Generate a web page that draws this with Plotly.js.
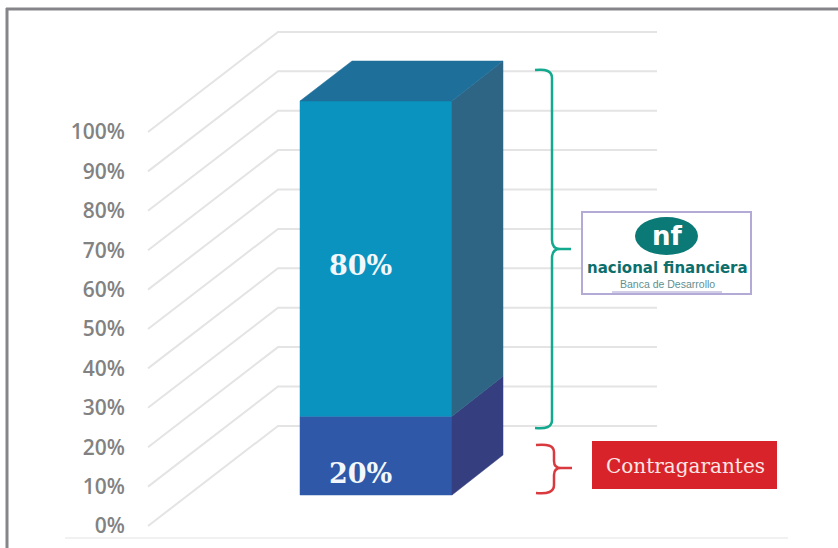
<!DOCTYPE html>
<html>
<head>
<meta charset="utf-8">
<script src="https://cdn.plot.ly/plotly-3.0.1.min.js"></script>
<style>html,body{margin:0;padding:0;background:#fff}#chart{width:838px;height:548px}</style>
</head>
<body>
<div id="chart"></div>
<script>
// Guarantee split of the stacked column
const segmentNames = ['Contragarantes', 'Nacional Financiera'];
const segmentValues = [20, 80];
const segmentLabels = ['20%', '80%'];
const tickValues = [0, 10, 20, 30, 40, 50, 60, 70, 80, 90, 100];
const tickLabels = ['0%', '10%', '20%', '30%', '40%', '50%', '60%', '70%', '80%', '90%', '100%'];

// Page geometry: the x axis runs in page pixels, the y axis in percent
const W = 838, H = 548, plotLeft = 130;
const pxPerPct = 3.94, zeroPx = 526;
const val = px => (zeroPx - px) / pxPerPct;
const yRange = [val(H), val(0)];

// Oblique projection of the floor and walls
const wallStart = 148, wallDepthX = 130, wallDepthV = 25.4, wallEnd = 657;

// Column placement in the projection
const colLeft = 300, colRight = 452, colDepthX = 51, colDepthV = 10.15, colBase = val(495);

const faceColors = [
  {front: '#2f58a9', top: '#2f58a9', side: '#353f80'},
  {front: '#0a93bf', top: '#1f6f9b', side: '#2e6585'}
];

const traces = [];

// Wall gridlines: a diagonal across the side wall, then along the back wall
tickValues.forEach(v => {
  traces.push({
    type: 'scatter', mode: 'lines', hoverinfo: 'skip', showlegend: false,
    x: [wallStart, wallStart + wallDepthX, wallEnd],
    y: [v, v + wallDepthV, v + wallDepthV],
    line: {color: '#e4e4e4', width: 2}
  });
});

function face(xs, ys, color, name) {
  traces.push({
    type: 'scatter', mode: 'lines', fill: 'toself', fillcolor: color, name,
    x: xs, y: ys, line: {color, width: 0.5}, hoverinfo: 'name', showlegend: false
  });
}

// Stacked column, each segment built from its value
let running = colBase;
segmentValues.forEach((value, i) => {
  const lo = running, hi = running + value, c = faceColors[i];
  face([colLeft, colRight, colRight, colLeft, colLeft], [lo, lo, hi, hi, lo], c.front, segmentNames[i]);
  face([colRight, colRight + colDepthX, colRight + colDepthX, colRight, colRight],
       [lo, lo + colDepthV, hi + colDepthV, hi, lo], c.side, segmentNames[i]);
  running = hi;
});
const last = faceColors[faceColors.length - 1];
face([colLeft, colRight, colRight + colDepthX, colLeft + colDepthX + 1, colLeft],
     [running, running, running + colDepthV, running + colDepthV, running], last.top, segmentNames[1]);

const serif = 'DejaVu Serif, serif';
const shapes = [
  // Outer frame and floor rule
  {type: 'line', xref: 'paper', yref: 'paper', x0: (6 - plotLeft) / (W - plotLeft), x1: 1,
   y0: 1 - 9 / H, y1: 1 - 9 / H, line: {color: '#85858a', width: 3}},
  {type: 'line', xref: 'paper', yref: 'paper', x0: (7 - plotLeft) / (W - plotLeft), x1: (7 - plotLeft) / (W - plotLeft),
   y0: 0, y1: 1 - 8 / H, line: {color: '#85858a', width: 3}},
  {type: 'line', xref: 'paper', yref: 'paper', x0: (65 - plotLeft) / (W - plotLeft), x1: (788 - plotLeft) / (W - plotLeft),
   y0: 1 - 538 / H, y1: 1 - 538 / H, line: {color: '#ececec', width: 1.5}},
  // Teal brace
  {type: 'path', xref: 'x', yref: 'y', line: {color: '#12a98f', width: 2.5},
   path: `M 535 ${val(70)} Q 552 ${val(68)} 552 ${val(78)} L 552 ${val(240)} Q 552 ${val(249)} 560 ${val(249)} L 571 ${val(249)} ` +
         `M 560 ${val(249)} Q 552 ${val(249)} 552 ${val(258)} L 552 ${val(420)} Q 552 ${val(430)} 535 ${val(428)}`},
  // Red brace
  {type: 'path', xref: 'x', yref: 'y', line: {color: '#d93a3f', width: 2.5},
   path: `M 536 ${val(445)} Q 554 ${val(443)} 554 ${val(452)} L 554 ${val(461)} Q 554 ${val(468)} 561 ${val(468)} L 572 ${val(468)} ` +
         `M 561 ${val(468)} Q 554 ${val(468)} 554 ${val(475)} L 554 ${val(485)} Q 554 ${val(495)} 536 ${val(493)}`},
  // Bank logo box
  {type: 'rect', xref: 'x', yref: 'y', x0: 582, x1: 751, y0: val(212), y1: val(294),
   fillcolor: '#ffffff', line: {color: '#b3abd6', width: 2}},
  {type: 'circle', xref: 'x', yref: 'y', x0: 635, x1: 698, y0: val(217), y1: val(255),
   fillcolor: '#0b7a76', line: {width: 0}},
  {type: 'line', xref: 'x', yref: 'y', x0: 612, x1: 722, y0: val(292), y1: val(292),
   line: {color: '#c4bee0', width: 1.5}},
  // Red caption box
  {type: 'rect', xref: 'x', yref: 'y', x0: 592, x1: 777, y0: val(441), y1: val(489),
   fillcolor: '#d8232a', line: {width: 0}}
];

const annotations = [
  {x: 360, y: val(473), text: `<b>${segmentLabels[0]}</b>`, font: {family: serif, size: 27, color: '#f3f7fb'}},
  {x: 360, y: val(265), text: `<b>${segmentLabels[1]}</b>`, font: {family: serif, size: 27, color: '#f3f7fb'}},
  {x: 685, y: val(466), text: 'Contragarantes', font: {family: serif, size: 20, color: '#fbe6e4'}},
  {x: 667, y: val(236), text: '<b>nf</b>', font: {family: 'DejaVu Sans, sans-serif', size: 26, color: '#ffffff'}},
  {x: 667, y: val(268), text: '<b>nacional financiera</b>', font: {family: 'DejaVu Sans, sans-serif', size: 15, color: '#0d6f6c'}},
  {x: 667, y: val(284), text: 'Banca de Desarrollo', font: {family: 'Liberation Sans, sans-serif', size: 10.5, color: '#5f8f92'}}
].map(a => Object.assign({xref: 'x', yref: 'y', showarrow: false, xanchor: 'center', yanchor: 'middle'}, a));

Plotly.newPlot('chart', traces, {
  width: W, height: H,
  margin: {l: plotLeft, r: 0, t: 0, b: 0},
  paper_bgcolor: '#ffffff', plot_bgcolor: 'rgba(0,0,0,0)',
  showlegend: false,
  xaxis: {range: [plotLeft, W], visible: false, fixedrange: true},
  yaxis: {
    range: yRange, tickmode: 'array', tickvals: tickValues, ticktext: tickLabels,
    showgrid: false, zeroline: false, showline: false, fixedrange: true,
    ticks: '', ticklabelstandoff: 4,
    tickfont: {family: 'Open Sans, sans-serif', size: 21, weight: 600, color: '#828282'}
  },
  shapes, annotations
}, {displayModeBar: false, staticPlot: true});
</script>
</body>
</html>
